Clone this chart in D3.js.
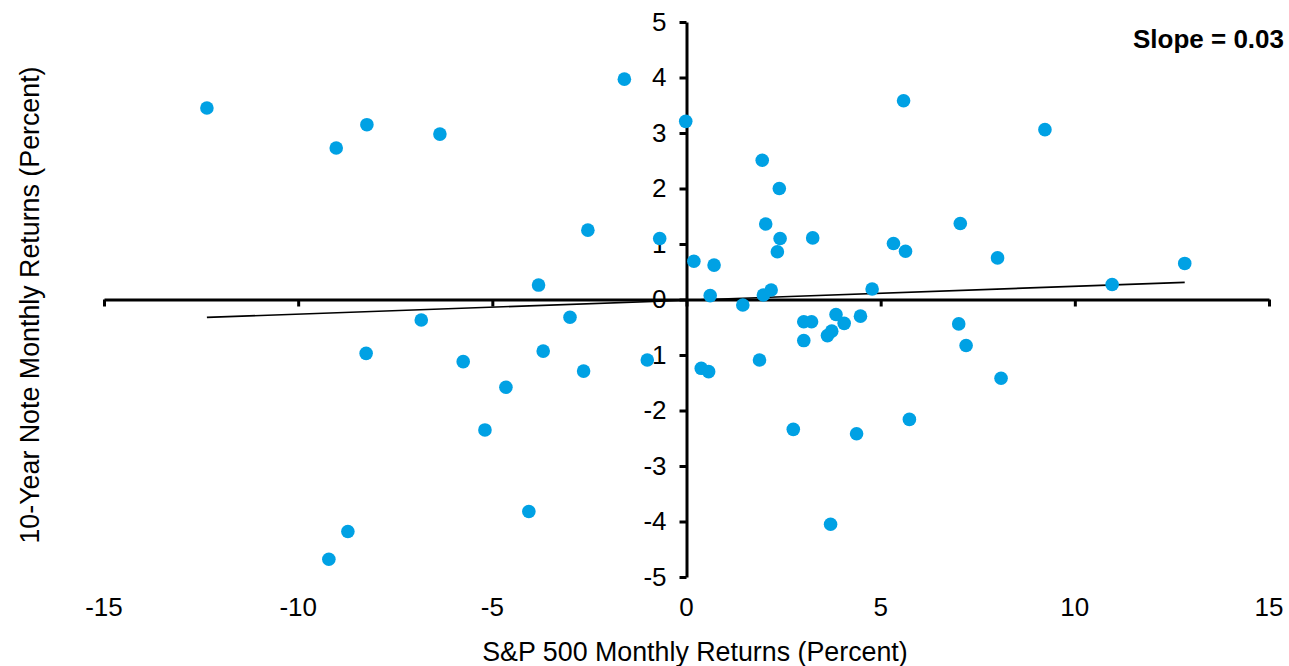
<!DOCTYPE html>
<html>
<head>
<meta charset="utf-8">
<script src="https://cdn.jsdelivr.net/npm/d3@7"></script>
<style>
  html, body { margin: 0; padding: 0; background: #fff; }
  svg { display: block; font-family: "Liberation Sans", Arial, sans-serif; }
</style>
</head>
<body>
<svg id="chart" width="1289" height="666"></svg>
<script>
// S&P 500 monthly returns (x, percent)
const sp500Returns = [
  -12.35, -9.02, -8.23, -6.35, -1.60, -0.02, 1.95, 2.39, 2.04, 2.41,
  2.34, 3.25, -2.54, -0.69, 0.19, 0.71, -3.81, 0.61, 1.98, 2.18,
  1.45, 5.33, 5.64, 5.59, 7.05, 8.01, 9.23, 10.96, 12.83, 4.78,
  -6.83, -3.00, -8.25, -5.75, -3.69, -2.65, -1.01, -4.65, -5.19, -4.06,
  -8.72, -9.21, 0.38, 0.57, 1.88, 3.02, 3.22, 3.02, 3.85, 4.06,
  4.48, 3.63, 3.74, 2.75, 4.38, 3.71, 5.74, 7.01, 7.20, 8.10
];
// 10-Year Note monthly returns (y, percent)
const noteReturns = [
  3.45, 2.73, 3.15, 2.98, 3.97, 3.21, 2.51, 2.00, 1.36, 1.10,
  0.86, 1.11, 1.25, 1.10, 0.69, 0.62, 0.26, 0.07, 0.08, 0.17,
  -0.10, 1.01, 0.87, 3.58, 1.37, 0.75, 3.06, 0.27, 0.65, 0.19,
  -0.37, -0.32, -0.97, -1.12, -0.93, -1.29, -1.09, -1.58, -2.35, -3.82,
  -4.18, -4.68, -1.24, -1.30, -1.09, -0.40, -0.40, -0.74, -0.27, -0.43,
  -0.30, -0.65, -0.57, -2.34, -2.42, -4.05, -2.16, -0.44, -0.83, -1.42
];
const xTicks = [-15, -10, -5, 0, 5, 10, 15];
const yTicks = [-5, -4, -3, -2, -1, 0, 1, 2, 3, 4, 5];
const xTitle = "S&P 500 Monthly Returns (Percent)";
const yTitle = "10-Year Note Monthly Returns (Percent)";
const slopeLabel = "Slope = 0.03";

const svg = d3.select("#chart");
const x = d3.scaleLinear().domain([-15, 15]).range([104, 1269]);
const y = d3.scaleLinear().domain([-5, 5]).range([577, 22]);

const points = sp500Returns.map((v, i) => ({ x: v, y: noteReturns[i] }));

// Least-squares trendline
const mx = d3.mean(points, d => d.x), my = d3.mean(points, d => d.y);
const sxy = d3.sum(points, d => (d.x - mx) * (d.y - my));
const sxx = d3.sum(points, d => (d.x - mx) ** 2);
const slope = sxy / sxx, intercept = my - slope * mx;
const [xmin, xmax] = d3.extent(points, d => d.x);

const axisColor = "#000";
const tickFont = 26;
const plain = d => String(d);

// X axis (through y=0), ticks only
const gx = svg.append("g")
  .attr("transform", `translate(0,${y(0)})`)
  .call(d3.axisBottom(x).tickValues(xTicks).tickSize(7).tickSizeOuter(0).tickFormat(""));
gx.select(".domain").attr("stroke", axisColor).attr("stroke-width", 3);
gx.selectAll(".tick line").attr("stroke", axisColor).attr("stroke-width", 3);

// X tick labels at bottom
svg.append("g").selectAll("text")
  .data(xTicks).join("text")
  .attr("x", d => x(d)).attr("y", 607)
  .attr("text-anchor", "middle").attr("dominant-baseline", "central")
  .attr("font-size", tickFont).attr("fill", "#000")
  .text(plain);

// Y axis (through x=0)
const gy = svg.append("g")
  .attr("transform", `translate(${x(0)},0)`)
  .call(d3.axisLeft(y).tickValues(yTicks).tickSize(7).tickSizeOuter(0).tickPadding(13).tickFormat(plain));
gy.select(".domain").attr("stroke", axisColor).attr("stroke-width", 3);
gy.selectAll(".tick line").attr("stroke", axisColor).attr("stroke-width", 3);
gy.selectAll(".tick text").attr("font-size", tickFont).attr("fill", "#000")
  .attr("font-family", "Liberation Sans, Arial, sans-serif");

// Trendline
svg.append("line")
  .attr("x1", x(xmin)).attr("y1", y(intercept + slope * xmin))
  .attr("x2", x(xmax)).attr("y2", y(intercept + slope * xmax))
  .attr("stroke", "#000").attr("stroke-width", 1.6);

// Points
svg.append("g").selectAll("circle")
  .data(points).join("circle")
  .attr("cx", d => x(d.x)).attr("cy", d => y(d.y))
  .attr("r", 6.8).attr("fill", "#00A1E4");

// Axis titles
svg.append("text")
  .attr("x", 695).attr("y", 652)
  .attr("text-anchor", "middle").attr("dominant-baseline", "central")
  .attr("font-size", 26.8).attr("fill", "#000")
  .text(xTitle);

svg.append("text")
  .attr("transform", `translate(30,305) rotate(-90)`)
  .attr("text-anchor", "middle").attr("dominant-baseline", "central")
  .attr("font-size", 26.8).attr("fill", "#000")
  .text(yTitle);

// Slope annotation
svg.append("text")
  .attr("x", 1284).attr("y", 39)
  .attr("text-anchor", "end").attr("dominant-baseline", "central")
  .attr("font-size", 26).attr("font-weight", "bold").attr("fill", "#000")
  .text(slopeLabel);
</script>
</body>
</html>
